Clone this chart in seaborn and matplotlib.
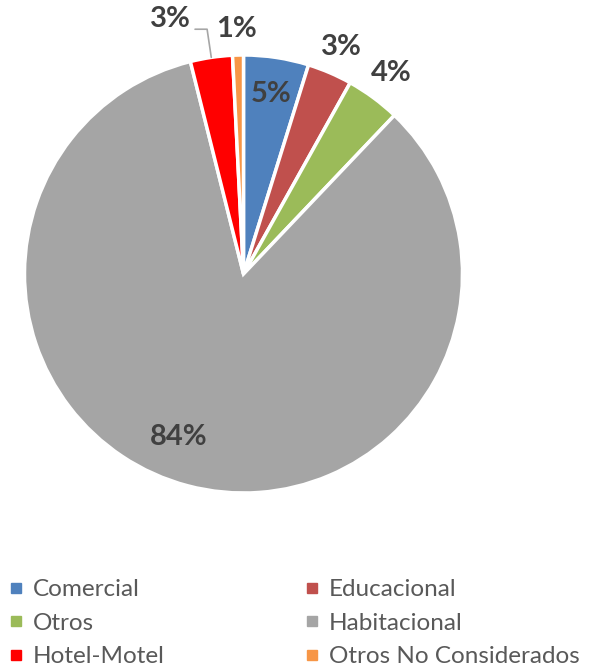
import numpy as np
import matplotlib
matplotlib.use("Agg")
import matplotlib.pyplot as plt
from matplotlib.lines import Line2D
import seaborn as sns

categorias = ['Comercial', 'Educacional', 'Otros', 'Habitacional',
              'Hotel-Motel', 'Otros No Considerados']
valores = [4.8, 3.3, 4.0, 84.0, 3.1, 0.8]
etiquetas = ['5%', '3%', '4%', '84%', '3%', '1%']
colores = ['#4F81BD', '#C0504D', '#9BBB59', '#A5A5A5', '#FF0000', '#F79646']

sns.set_theme(style='white')
plt.rcParams['font.family'] = ['Lato', 'DejaVu Sans']

W, H = 602, 668
fig = plt.figure(figsize=(W / 100, H / 100), dpi=100)
# centro del pie (243.5, 274) px, radio 219 px
r_px = 219
ax = fig.add_axes([(243.5 - r_px) / W, (H - 274 - r_px) / H, 2 * r_px / W, 2 * r_px / H])

wedges, _ = ax.pie(
    valores,
    colors=sns.color_palette(colores),
    startangle=90,
    counterclock=False,
    radius=1,
    wedgeprops={'edgecolor': 'white', 'linewidth': 2.5},
)
ax.set_xlim(-1, 1)
ax.set_ylim(-1, 1)
ax.set_aspect('equal')
ax.axis('off')

# posicion de etiquetas: (radio, ajuste de angulo en grados)
pos_etiquetas = [(0.83, 0), (1.13, 0), (1.14, 0), (0.80, -7), (1.21, 7.5), (1.12, 0.3)]
for w, txt, (rr, dang) in zip(wedges, etiquetas, pos_etiquetas):
    ang = np.deg2rad((w.theta1 + w.theta2) / 2 + dang)
    ax.text(rr * np.cos(ang), rr * np.sin(ang), txt, ha='center', va='center',
            fontsize=21, fontweight='bold', color='#404040')

# linea guia de Hotel-Motel
w = wedges[4]
ang = np.deg2rad((w.theta1 + w.theta2) / 2)
x0, y0 = np.cos(ang), np.sin(ang)
x1, y1 = 1.13 * np.cos(ang), 1.13 * np.sin(ang)
ax.plot([x0, x1, x1 - 0.055], [y0, y1, y1], color='#A6A6A6', lw=1.2, clip_on=False)

# leyenda en dos columnas (orden por filas)
handles = [Line2D([], [], marker='s', linestyle='none', markersize=7,
                  markerfacecolor=c, markeredgecolor=c) for c in colores]
orden = [0, 2, 4, 1, 3, 5]
leg = fig.legend([handles[i] for i in orden], [categorias[i] for i in orden],
                 ncol=2, loc='upper left', bbox_to_anchor=(-7.5 / W, 1 - 562 / H),
                 frameon=False, fontsize=17.5, handlelength=0.55, handletextpad=0.4,
                 columnspacing=5.8, labelspacing=0.52, borderaxespad=0.3)
for t in leg.get_texts():
    t.set_color('#595959')

fig.savefig('out.png', dpi=100)
